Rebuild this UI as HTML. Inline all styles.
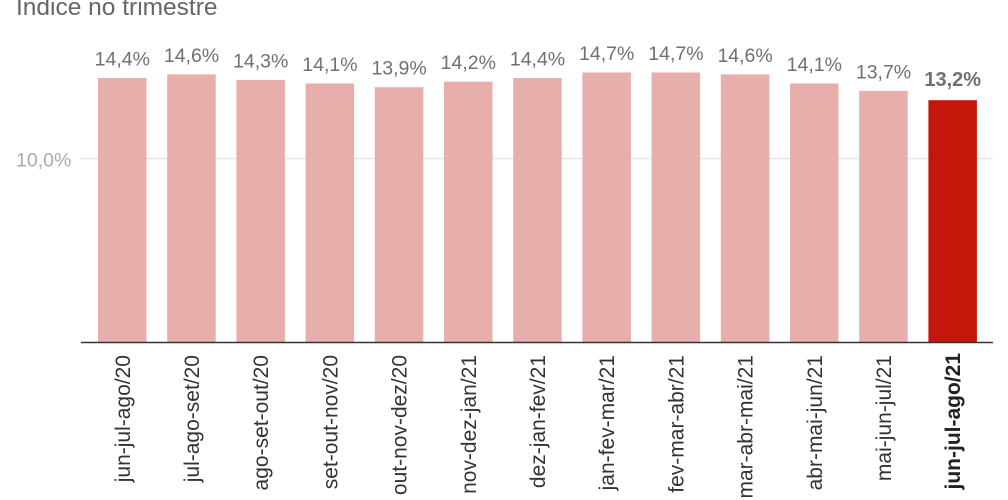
<!DOCTYPE html>
<html><head><meta charset="utf-8"><style>
html,body{margin:0;padding:0;background:#fff;}
svg{display:block;}
text{font-family:"Liberation Sans",Arial,sans-serif;}
</style></head><body>
<svg width="1008" height="500" viewBox="0 0 1008 500" xmlns="http://www.w3.org/2000/svg">
<rect width="1008" height="500" fill="#fff"/>
<text x="16" y="15" font-size="24.5" fill="#666">Índice no trimestre</text>
<line x1="81" y1="158.5" x2="993" y2="158.5" stroke="#e6e6e6" stroke-width="1.5"/>
<text x="16" y="166.5" font-size="19.5" fill="#aaa">10,0%</text>
<g fill="#e8aeab">
<rect x="98" y="78" width="48.5" height="264"/>
<rect x="167.2" y="74.4" width="48.5" height="267.6"/>
<rect x="236.4" y="79.9" width="48.5" height="262.1"/>
<rect x="305.6" y="83.5" width="48.5" height="258.5"/>
<rect x="374.8" y="87.2" width="48.5" height="254.8"/>
<rect x="444" y="81.7" width="48.5" height="260.3"/>
<rect x="513.2" y="78" width="48.5" height="264"/>
<rect x="582.4" y="72.5" width="48.5" height="269.5"/>
<rect x="651.6" y="72.5" width="48.5" height="269.5"/>
<rect x="720.8" y="74.4" width="48.5" height="267.6"/>
<rect x="790" y="83.5" width="48.5" height="258.5"/>
<rect x="859.2" y="90.9" width="48.5" height="251.1"/>
</g>
<rect x="928.4" y="100.2" width="48.5" height="241.8" fill="#c4170c"/>
<line x1="81" y1="342.5" x2="993" y2="342.5" stroke="#333" stroke-width="1.6"/>
<g font-size="19.5" fill="#707070" text-anchor="middle">
<text x="122.3" y="65.5">14,4%</text>
<text x="191.5" y="62">14,6%</text>
<text x="260.7" y="67.5">14,3%</text>
<text x="329.9" y="71">14,1%</text>
<text x="399.1" y="74.7">13,9%</text>
<text x="468.3" y="69.2">14,2%</text>
<text x="537.5" y="65.5">14,4%</text>
<text x="606.7" y="60">14,7%</text>
<text x="675.9" y="60">14,7%</text>
<text x="745.1" y="62">14,6%</text>
<text x="814.3" y="71">14,1%</text>
<text x="883.5" y="78.4">13,7%</text>
<text x="952.7" y="86" font-weight="bold" font-size="20">13,2%</text>
</g>
<g font-size="21" fill="#333" text-anchor="end">
<text transform="translate(129.8,355) rotate(-90)">jun-jul-ago/20</text>
<text transform="translate(199,355) rotate(-90)">jul-ago-set/20</text>
<text transform="translate(268.2,355) rotate(-90)">ago-set-out/20</text>
<text transform="translate(337.4,355) rotate(-90)">set-out-nov/20</text>
<text transform="translate(406.6,355) rotate(-90)">out-nov-dez/20</text>
<text transform="translate(475.8,355) rotate(-90)">nov-dez-jan/21</text>
<text transform="translate(545,355) rotate(-90)">dez-jan-fev/21</text>
<text transform="translate(614.2,355) rotate(-90)">jan-fev-mar/21</text>
<text transform="translate(683.4,355) rotate(-90)">fev-mar-abr/21</text>
<text transform="translate(752.6,355) rotate(-90)">mar-abr-mai/21</text>
<text transform="translate(821.8,355) rotate(-90)">abr-mai-jun/21</text>
<text transform="translate(891,355) rotate(-90)">mai-jun-jul/21</text>
<text transform="translate(960.2,353) rotate(-90)" font-weight="bold" fill="#222">jun-jul-ago/21</text>
</g>
</svg>
</body></html>
